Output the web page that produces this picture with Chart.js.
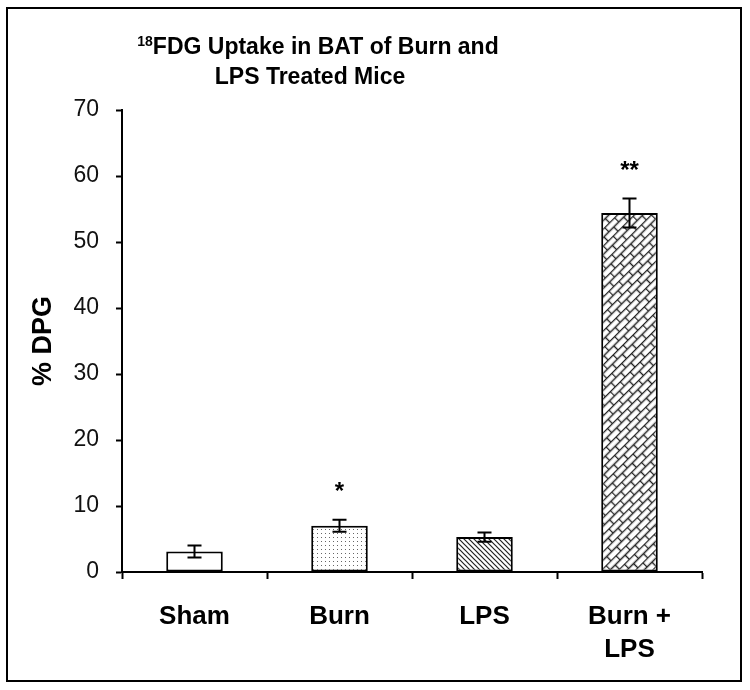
<!DOCTYPE html>
<html>
<head>
<meta charset="utf-8">
<script src="https://cdn.jsdelivr.net/npm/chart.js@4"></script>
<style>
  html, body { margin: 0; padding: 0; background: #fff; }
  #wrap { width: 750px; height: 690px; }
</style>
</head>
<body>
<div id="wrap"><canvas id="fdgChart"></canvas></div>
<script>
// data
const categories = ['Sham', 'Burn', 'LPS', ['Burn +', 'LPS']];
const uptake = [3.1, 7.0, 5.3, 54.4];
const uptakeErr = [0.9, 0.9, 0.7, 2.2];
const stars = ['', '*', '', '**'];
const yTicks = [0, 10, 20, 30, 40, 50, 60, 70];

const FONT = '"Liberation Sans", Arial, sans-serif';

// fill patterns, like the excel hatches
function makeTile(w, h, draw) {
    const c = document.createElement('canvas');
    c.width = w; c.height = h;
    const g = c.getContext('2d');
    g.fillStyle = '#fff';
    g.fillRect(0, 0, w, h);
    draw(g);
    return c;
}

const ctx0 = document.getElementById('fdgChart').getContext('2d');

const dots = ctx0.createPattern(makeTile(4, 4, g => {
    g.fillStyle = '#666';
    g.fillRect(1, 1, 1, 1);
}), 'repeat');

const hatch = ctx0.createPattern(makeTile(5, 5, g => {
    g.strokeStyle = '#222';
    g.lineWidth = 1.2;
    g.beginPath();
    g.moveTo(-1, -1); g.lineTo(6, 6);
    g.moveTo(-1, 4); g.lineTo(1, 6);
    g.moveTo(4, -1); g.lineTo(6, 1);
    g.stroke();
}), 'repeat');

const bricks = ctx0.createPattern(makeTile(14, 12, g => {
    g.strokeStyle = '#222';
    g.lineWidth = 1.4;
    g.beginPath();
    g.moveTo(0, 0.5); g.lineTo(14, 0.5);
    g.moveTo(0, 6.5); g.lineTo(14, 6.5);
    g.moveTo(0.5, 0); g.lineTo(0.5, 6.5);
    g.moveTo(7.5, 6.5); g.lineTo(7.5, 12);
    g.stroke();
}), 'repeat');
bricks.setTransform(new DOMMatrix().rotate(-45));

const fills = ['#fff', dots, hatch, bricks];

// error bars + significance stars
const errorBars = {
    id: 'errorBars',
    afterDatasetsDraw(chart) {
        const ctx = chart.ctx;
        const y = chart.scales.y;
        const meta = chart.getDatasetMeta(0);
        ctx.save();
        ctx.strokeStyle = '#000';
        ctx.lineWidth = 2;
        meta.data.forEach((bar, i) => {
            const top = y.getPixelForValue(uptake[i] + uptakeErr[i]);
            const bot = y.getPixelForValue(uptake[i] - uptakeErr[i]);
            ctx.beginPath();
            ctx.moveTo(bar.x, top); ctx.lineTo(bar.x, bot);
            ctx.moveTo(bar.x - 7, top); ctx.lineTo(bar.x + 7, top);
            ctx.moveTo(bar.x - 7, bot); ctx.lineTo(bar.x + 7, bot);
            ctx.stroke();
            if (stars[i]) {
                ctx.fillStyle = '#000';
                ctx.font = 'bold 24px ' + FONT;
                ctx.textAlign = 'center';
                ctx.textBaseline = 'middle';
                ctx.fillText(stars[i], bar.x, top - 27);
            }
        });
        ctx.restore();
    }
};

// two-line title with superscript 18, and the frame round the figure
const titleAndFrame = {
    id: 'titleAndFrame',
    afterDraw(chart) {
        const ctx = chart.ctx;
        ctx.save();
        ctx.fillStyle = '#000';
        ctx.textBaseline = 'middle';
        const cx = 318;
        const sup = '18';
        const line1 = 'FDG Uptake in BAT of Burn and';
        ctx.font = 'bold 14px ' + FONT;
        const wSup = ctx.measureText(sup).width;
        ctx.font = 'bold 23px ' + FONT;
        const w1 = ctx.measureText(line1).width;
        let x = cx - (wSup + w1) / 2;
        ctx.textAlign = 'left';
        ctx.font = 'bold 14px ' + FONT;
        ctx.fillText(sup, x, 42);
        ctx.font = 'bold 23px ' + FONT;
        ctx.fillText(line1, x + wSup, 48);
        ctx.textAlign = 'center';
        ctx.fillText('LPS Treated Mice', 310, 78);

        ctx.strokeStyle = '#000';
        ctx.lineWidth = 2;
        ctx.strokeRect(7, 8, 734, 673);
        ctx.restore();
    }
};

new Chart(document.getElementById('fdgChart'), {
    type: 'bar',
    data: {
        labels: categories,
        datasets: [{
            label: '%DPG',
            data: uptake,
            backgroundColor: fills,
            borderColor: '#000',
            borderWidth: 2,
            borderSkipped: false,
            categoryPercentage: 1,
            barPercentage: 0.39
        }]
    },
    options: {
        responsive: true,
        maintainAspectRatio: false,
        animation: false,
        layout: { padding: { left: 0, right: 48, top: 110, bottom: 0 } },
        plugins: {
            legend: { display: false },
            tooltip: { enabled: false }
        },
        scales: {
            x: {
                afterFit: s => { s.height = 118; },
                grid: { drawOnChartArea: false, tickLength: 7, tickColor: '#000', tickWidth: 2 },
                border: { color: '#000', width: 2 },
                ticks: {
                    color: '#000',
                    padding: 21,
                    maxRotation: 0,
                    font: { family: FONT, size: 26, weight: 'bold', lineHeight: 1.27 }
                }
            },
            y: {
                min: 0,
                max: 70,
                afterFit: s => { s.width = 122; },
                afterBuildTicks: s => { s.ticks = yTicks.map(v => ({ value: v })); },
                grid: { drawOnChartArea: false, tickLength: 6, tickColor: '#000', tickWidth: 2 },
                border: { color: '#000', width: 2 },
                ticks: {
                    color: '#111',
                    padding: 17,
                    font: { family: FONT, size: 23 }
                },
                title: {
                    display: true,
                    text: '% DPG',
                    color: '#000',
                    padding: { top: 27, bottom: 0 },
                    font: { family: FONT, size: 27, weight: 'bold' }
                }
            }
        }
    },
    plugins: [errorBars, titleAndFrame]
});
</script>
</body>
</html>
